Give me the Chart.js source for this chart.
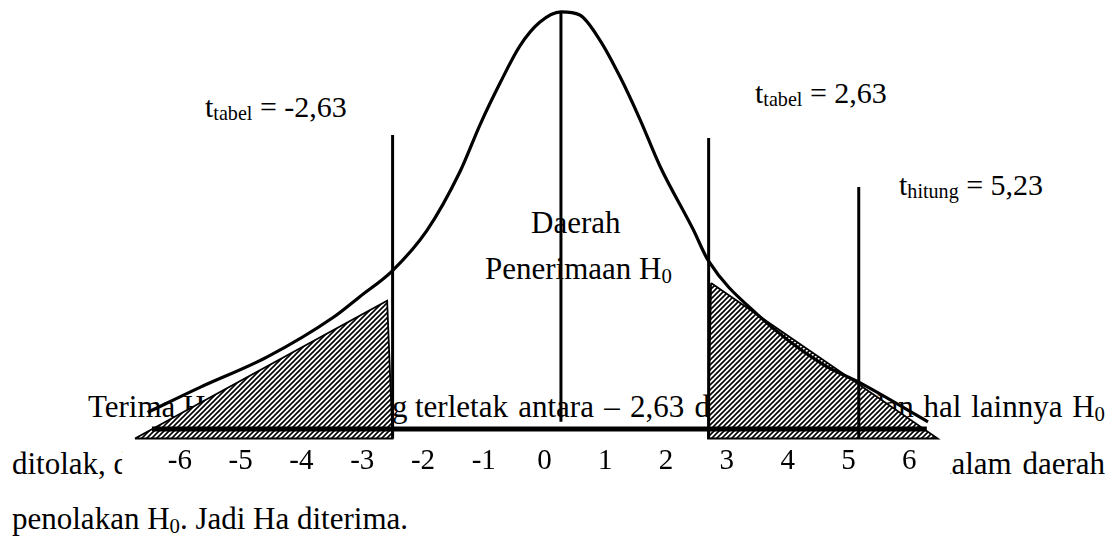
<!DOCTYPE html>
<html>
<head>
<meta charset="utf-8">
<script src="https://cdn.jsdelivr.net/npm/chart.js@4.4.1/dist/chart.umd.min.js"></script>
<style>
  body { margin: 0; background: #fff; }
  #wrap { position: relative; width: 1114px; height: 536px; overflow: hidden; }
  #canvas { position: absolute; left: 0; top: 0; z-index: 1; }
  .txt { position: absolute; font-family: "Liberation Serif", "Times New Roman", serif; font-size: 30px; line-height: 1; color: #000; white-space: nowrap; }
  .par { font-size: 31px; }
  .sub { font-size: 0.67em; position: relative; top: 0.17em; }
</style>
</head>
<body>
<div id="wrap">
  <!-- labels -->
  <div class="txt" style="left:205px; top:92px">t<span class="sub">tabel</span> = -2,63</div>
  <div class="txt" style="left:755px; top:78px">t<span class="sub">tabel</span> = 2,63</div>
  <div class="txt" style="left:899px; top:170px">t<span class="sub">hitung</span> = 5,23</div>
  <div class="txt" style="left:531px; top:207px; font-size:31px">Daerah</div>
  <div class="txt" style="left:485px; top:253px; font-size:31px">Penerimaan H<span class="sub">0</span></div>

  <!-- paragraph behind the picture -->
  <div class="txt par" style="left:88px; top:391px">Terima H<span class="sub">0</span> jika t<span class="sub">hitung</span> yang</div>
  <div class="txt par" style="left:415px; top:391px; word-spacing:2.5px">terletak antara – 2,63 dan 2,63</div>
  <div class="txt par" style="right:9px; top:391px; word-spacing:2px">dan hal lainnya H<span class="sub">0</span></div>
  <div class="txt par" style="left:12px; top:448px">ditolak, dan t<span class="sub">hitung</span> = 5,23 yang berada</div>
  <div class="txt par" style="right:9px; top:448px; word-spacing:3px">di dalam daerah</div>
  <div class="txt par" style="left:12px; top:503px">penolakan H<span class="sub">0</span>. Jadi Ha diterima.</div>

  <canvas id="canvas" width="1114" height="536"></canvas>
</div>

<script>
// axis ticks
var tickValues = [-6, -5, -4, -3, -2, -1, 0, 1, 2, 3, 4, 5, 6]
var tickLabels = ['-6', '-5', '-4', '-3', '-2', '-1', '0', '1', '2', '3', '4', '5', '6']

// bell curve
var curveX = [-6.53, -5.67, -4.57, -3.48, -3.04, -2.50, -1.94, -1.39, -1.06, -0.73, -0.41, -0.08, 0.27,
              0.58, 0.91, 1.24, 1.57, 1.90, 2.44, 2.70, 3.50, 4.58, 5.17, 6.31]
var curveY = [0.016, 0.040, 0.069, 0.107, 0.127, 0.152, 0.190, 0.247, 0.292, 0.332, 0.367, 0.390, 0.400,
              0.397, 0.373, 0.338, 0.297, 0.252, 0.192, 0.161, 0.110, 0.062, 0.045, 0.007]

// vertical lines: t tabel kiri, tengah, t tabel kanan, t hitung
var lineX = [-2.50, 0.27, 2.70, 5.17]
var lineTop = [0.282, 0.400, 0.279, 0.232]
var lineBottom = [-0.009, 0.007, -0.009, -0.009]

// thick base line
var baseX = [-6.46, 6.29]
var baseY = [0, 0]

// hatched rejection areas (closed triangles)
var leftAreaX = [-6.74, -2.59, -2.50, -6.74]
var leftAreaY = [-0.009, 0.123, -0.009, -0.009]
var rightAreaX = [2.74, 6.47, 2.69, 2.74]
var rightAreaY = [0.140, -0.009, -0.009, 0.140]

function toPoints(xs, ys) {
    var pts = []
    for (var i = 0; i < xs.length; i++) pts.push({x: xs[i], y: ys[i]})
    return pts
}

// hatch pattern ////
var tile = document.createElement('canvas')
tile.width = 5
tile.height = 5
var tc = tile.getContext('2d')
tc.fillStyle = '#fff'
tc.fillRect(0, 0, 5, 5)
tc.strokeStyle = '#000'
tc.lineWidth = 1.6
tc.beginPath()
tc.moveTo(-1, 6); tc.lineTo(6, -1)
tc.moveTo(-1, 1); tc.lineTo(1, -1)
tc.moveTo(4, 6); tc.lineTo(6, 4)
tc.stroke()
var ctx = document.getElementById('canvas').getContext('2d')
var hatch = ctx.createPattern(tile, 'repeat')

var datasets = []
datasets.push({ data: toPoints(curveX, curveY), showLine: true, borderColor: '#000', borderWidth: 3.2,
    pointRadius: 0, cubicInterpolationMode: 'monotone', fill: false, clip: false })
for (var i = 0; i < lineX.length; i++) {
    datasets.push({ data: [{x: lineX[i], y: lineTop[i]}, {x: lineX[i], y: lineBottom[i]}], showLine: true,
        borderColor: '#000', borderWidth: 3, pointRadius: 0, fill: false, clip: false })
}
datasets.push({ data: toPoints(baseX, baseY), showLine: true, borderColor: '#000', borderWidth: 5,
    pointRadius: 0, fill: false, clip: false })
datasets.push({ data: toPoints(leftAreaX, leftAreaY), showLine: true, borderColor: '#000', borderWidth: 1.8,
    pointRadius: 0, backgroundColor: hatch, fill: 'shape', tension: 0, clip: false })
datasets.push({ data: toPoints(rightAreaX, rightAreaY), showLine: true, borderColor: '#000', borderWidth: 1.8,
    pointRadius: 0, backgroundColor: hatch, fill: 'shape', tension: 0, clip: false })

// white box behind the tick numbers (hides the text line under it)
var tickBox = {
    id: 'tickBox',
    beforeDraw: function(chart) {
        var x = chart.scales.x
        var c = chart.ctx
        var l = x.getPixelForValue(-6.95)
        var r = x.getPixelForValue(6.68)
        c.save()
        c.fillStyle = '#fff'
        c.fillRect(l, chart.chartArea.bottom, r - l, 50)
        c.restore()
    }
}

var config = {
    type: 'scatter',
    data: { datasets: datasets },
    options: {
        responsive: false,
        animation: false,
        layout: { padding: { left: 0, right: 0, top: 0, bottom: 54 } },
        plugins: { legend: { display: false }, tooltip: { enabled: false } },
        scales: {
            x: {
                type: 'linear',
                position: 'bottom',
                min: -8.96,
                max: 9.37,
                grid: { display: false, drawTicks: false },
                border: { display: false },
                afterBuildTicks: function(s) {
                    s.ticks = tickValues.map(function(v) { return {value: v} })
                },
                ticks: {
                    autoSkip: false,
                    maxRotation: 0,
                    padding: 3,
                    color: '#000',
                    font: { family: 'Liberation Serif', size: 29 },
                    callback: function(v, i) { return tickLabels[i] }
                }
            },
            y: {
                display: false,
                min: -0.0116,
                max: 0.4114
            }
        }
    },
    plugins: [tickBox]
}

var mychart = new Chart(ctx, config)
</script>
</body>
</html>
